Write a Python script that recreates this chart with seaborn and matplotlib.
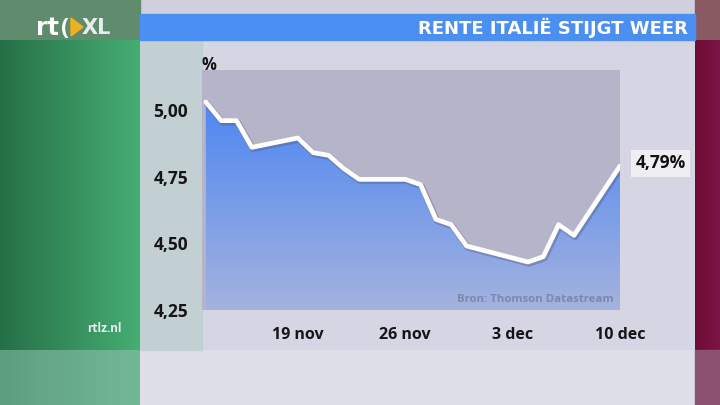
import pandas as pd
import numpy as np
import matplotlib
matplotlib.use("Agg")
import matplotlib.pyplot as plt
import matplotlib.dates as mdates
from matplotlib.patches import Rectangle, Polygon
import seaborn as sns

# rente Italie (10-jaars)
dates = ["2012-11-13", "2012-11-14", "2012-11-15", "2012-11-16", "2012-11-19",
         "2012-11-20", "2012-11-21", "2012-11-22", "2012-11-23", "2012-11-26",
         "2012-11-27", "2012-11-28", "2012-11-29", "2012-11-30", "2012-12-04",
         "2012-12-05", "2012-12-06", "2012-12-07", "2012-12-10"]
rente = [5.03, 4.96, 4.96, 4.86, 4.895,
         4.84, 4.83, 4.78, 4.74, 4.74,
         4.72, 4.59, 4.57, 4.49, 4.43,
         4.45, 4.57, 4.53, 4.79]
tick_dates = ["2012-11-19", "2012-11-26", "2012-12-03", "2012-12-10"]
tick_labels = ["19 nov", "26 nov", "3 dec", "10 dec"]
y_ticks = [4.25, 4.50, 4.75, 5.00]
y_labels = ["4,25", "4,50", "4,75", "5,00"]
last_label = "4,79%"
title = "RENTE ITALIË STIJGT WEER"
source = "Bron: Thomson Datastream"

df = pd.DataFrame({"datum": pd.to_datetime(dates), "rente": rente})

sns.set_theme(style="white")
plt.rcParams["font.family"] = ["Open Sans", "DejaVu Sans"]

W, H = 720, 405
fig = plt.figure(figsize=(7.2, 4.05), dpi=100)

# ---- screen background (pixel coords) ----
bg = fig.add_axes([0, 0, 1, 1])
bg.set_xlim(0, W)
bg.set_ylim(H, 0)
bg.axis("off")

def hgrad(ax, x0, x1, y0, y1, c0, c1):
    c0 = np.array(matplotlib.colors.to_rgb(c0))
    c1 = np.array(matplotlib.colors.to_rgb(c1))
    t = np.linspace(0, 1, 64)
    img = (c0[None, :] * (1 - t[:, None]) + c1[None, :] * t[:, None])[None, :, :]
    ax.imshow(img, extent=(x0, x1, y1, y0), aspect="auto", interpolation="bilinear", zorder=0)

# middle area
bg.add_patch(Rectangle((140, 0), 555, 350, color="#d6d5e3", zorder=0))
bg.add_patch(Rectangle((140, 350), 555, 55, color="#dedee8", zorder=0))
bg.add_patch(Rectangle((140, 40), 62, 310, color="#c2cfd3", zorder=0))
bg.add_patch(Rectangle((140, 0), 555, 14, color="#cfd0dc", zorder=0))
# left green panel
bg.add_patch(Rectangle((0, 0), 140, 40, color="#5f8c6d", zorder=0))
hgrad(bg, 0, 140, 40, 350, "#267047", "#45ad72")
hgrad(bg, 0, 140, 350, H, "#5e9e80", "#72b896")
# right crimson panel
bg.add_patch(Rectangle((695, 0), 25, 40, color="#8a5a62", zorder=0))
hgrad(bg, 695, 720, 40, 350, "#6e0c34", "#7c1446")
bg.add_patch(Rectangle((695, 350), 25, 55, color="#8c5070", zorder=0))
# title banner
bg.add_patch(Rectangle((140, 14), 555, 26, color="#4b8ff2", zorder=1))
bg.text(688, 27.5, title, color="white", fontsize=13, fontweight="bold",
        family="DejaVu Sans", ha="right", va="center", zorder=2)
# logo
bg.text(36, 28, "rt", color="white", fontsize=17, fontweight="bold",
        family="DejaVu Sans", ha="left", va="center", zorder=2)
bg.text(61, 29, "(", color="white", fontsize=17, fontweight="bold",
        ha="left", va="center", zorder=2)
bg.add_patch(Polygon([[71, 18], [71, 36], [83, 27]], closed=True, color="#f0b020", zorder=2))
bg.text(82, 28, "XL", color="#e8ecec", fontsize=15, fontweight="bold",
        family="DejaVu Sans", ha="left", va="center", zorder=2)
bg.text(122, 329, "rtlz.nl", color="#e6f3ea", fontsize=8.5, fontweight="bold",
        ha="right", va="center", zorder=2)

# ---- chart ----
ax = fig.add_axes([202 / W, 1 - 310 / H, 418 / W, 240 / H])
ax.set_facecolor("#b5b4c9")
x0 = mdates.date2num(pd.Timestamp("2012-11-12 18:00"))
x1 = mdates.date2num(pd.Timestamp("2012-12-10"))
ax.set_xlim(x0, x1)
ax.set_ylim(4.25, 5.15)

xs = mdates.date2num(df["datum"])
fill = ax.fill_between(xs, 4.25, df["rente"], color="none", zorder=1)
grad = np.linspace(0, 1, 128)[:, None]
cmap = matplotlib.colors.LinearSegmentedColormap.from_list("b", ["#a4b2df", "#4b86f2"])
im = ax.imshow(grad, extent=(x0, x1, 4.25, 5.05), origin="lower", aspect="auto",
               cmap=cmap, zorder=1)
im.set_clip_path(fill.get_paths()[0], transform=ax.transData)

# shadow + white line
ax.plot(xs + 0.08, df["rente"] - 0.006, color="#505070", alpha=0.35, lw=4.5, zorder=2)
sns.lineplot(data=df, x="datum", y="rente", color="white", lw=3.4, ax=ax, zorder=3)

ax.set_xticks(mdates.date2num(pd.to_datetime(tick_dates)))
ax.set_xticklabels(tick_labels)
ax.set_yticks(y_ticks)
ax.set_yticklabels(y_labels)
ax.tick_params(axis="x", length=0, pad=12.5, labelsize=11.5, labelcolor="#151515")
ax.tick_params(axis="y", length=0, pad=10, labelsize=12.5, labelcolor="#151515")
for lab in ax.get_xticklabels() + ax.get_yticklabels():
    lab.set_fontweight("bold")
ax.set_xlabel("")
ax.set_ylabel("")
for s in ax.spines.values():
    s.set_visible(False)
ax.grid(False)

ax.text(0.0, 1.02, "%", transform=ax.transAxes, fontsize=12, fontweight="bold",
        color="#151515", ha="left", va="center")
ax.text(0.985, 0.02, source, transform=ax.transAxes, fontsize=8.2, fontweight="bold",
        color="#7d88aa", ha="right", va="bottom", zorder=4)
ax.annotate(last_label, xy=(xs[-1], rente[-1]), xytext=(11, 2), textcoords="offset points",
            fontsize=12.5, fontweight="bold", color="#111111", ha="left", va="center",
            bbox=dict(boxstyle="square,pad=0.25", fc="#eeeef3", ec="none"),
            annotation_clip=False, zorder=5)

fig.savefig("out.png", dpi=100)
